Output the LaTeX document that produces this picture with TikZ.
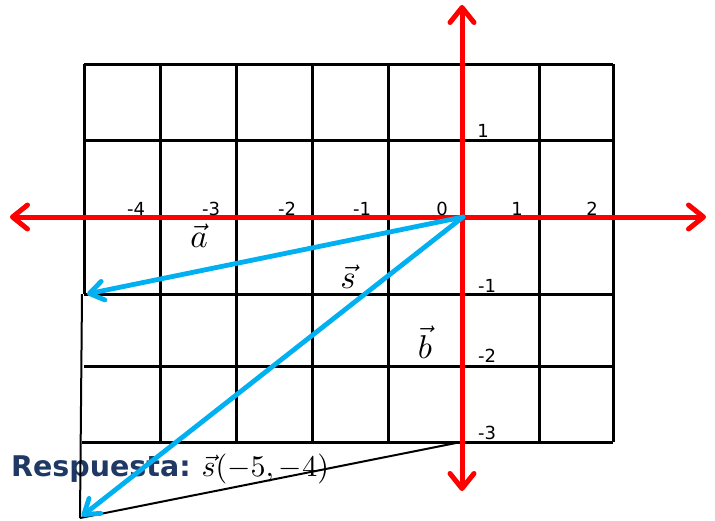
\documentclass[tikz,border=0pt]{standalone}
\usepackage{fontspec}
\newfontfamily\verd{DejaVu Sans}
\usetikzlibrary{arrows.meta}
\definecolor{axisred}{RGB}{255,0,0}
\definecolor{vecblue}{RGB}{0,176,240}
\definecolor{ansblue}{RGB}{31,56,100}
\begin{document}
\begin{tikzpicture}[x=1pt,y=-1pt,
  gridline/.style={line width=3pt,black},
  thinline/.style={line width=2pt,black},
  axisline/.style={line width=5pt,axisred,
    {Straight Barb[length=15pt,width=24pt,round]}-{Straight Barb[length=15pt,width=24pt,round]}},
  vecline/.style={line width=4.8pt,vecblue,line cap=round,
    -{Straight Barb[length=14pt,width=19pt,round]}},
  ticklbl/.style={font=\verd\fontsize{18}{20}\selectfont,inner sep=0pt,anchor=base},
  veclbl/.style={font=\fontsize{10}{12}\selectfont,scale=3.3,inner sep=0pt,anchor=base},
]
\useasboundingbox (0,0) rectangle (715,520);

% answer text (drawn below the lines)
\node[anchor=base west,inner sep=0pt,text=ansblue,font=\verd\bfseries\fontsize{28.5}{31}\selectfont] (resp) at (11,476) {Respuesta:};
\node[anchor=base west,inner sep=0pt,font=\fontsize{10}{12}\selectfont,scale=3.0] (ans) at (201,476) {$\vec{s}(-5,-4)$};

% grid
\foreach \x in {160,236,312,388,463,539,613}
  \draw[gridline] (\x,64) -- (\x,442);
\draw[gridline] (84,64) -- (84,294);
\foreach \y in {64,140,217,294,366}
  \draw[gridline] (84,\y) -- (613,\y);
\draw[gridline] (82,442) -- (613,442);

% named points
\coordinate (O) at (463,217);
\coordinate (A) at (87,294);
\coordinate (S) at (82,516);
\coordinate (Atop) at (82,294);
\coordinate (Bbot) at (80,518);
\coordinate (B3) at (461,442);
\coordinate (xl) at (10,217);
\coordinate (xr) at (706,217);
\coordinate (yt) at (462,5);
\coordinate (yb) at (462,491);

% construction lines
\draw[thinline] (Atop) -- (Bbot);
\draw[thinline] (B3) -- (Bbot);

% axes
\draw[axisline] (xl) -- (xr);
\draw[axisline] (yb) -- (yt);

% vectors
\draw[vecline] (O) -- (A);
\draw[vecline] (O) -- (S);

% tick labels
\node[ticklbl] (tm4) at (136,215) {-4};
\node[ticklbl] (tm3) at (211,215) {-3};
\node[ticklbl] (tm2) at (287,215) {-2};
\node[ticklbl] (tm1) at (362,215) {-1};
\node[ticklbl] (t0)  at (442,215) {0};
\node[ticklbl] (t1)  at (517,215) {1};
\node[ticklbl] (t2)  at (592,215) {2};
\node[ticklbl] (y1)  at (483,137) {1};
\node[ticklbl] (ym1) at (487,292) {-1};
\node[ticklbl] (ym2) at (487,362) {-2};
\node[ticklbl] (ym3) at (487,439) {-3};

% vector labels
\node[veclbl] (la) at (199,247) {$\vec{a}$};
\node[veclbl] (ls) at (348,288) {$\vec{s}$};
\node[veclbl] (lb) at (425,358) {$\vec{b}$};
\end{tikzpicture}
\end{document}
